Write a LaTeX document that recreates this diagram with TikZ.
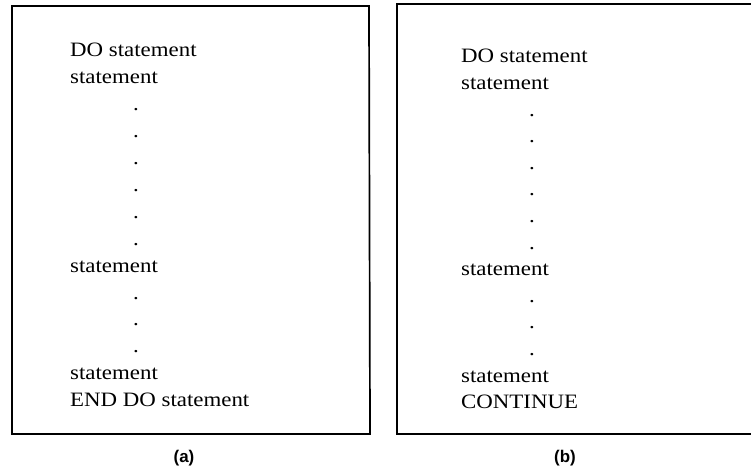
\documentclass[tikz,border=0pt]{standalone}
\usepackage{fontspec}
\setmainfont{Liberation Serif}[FakeStretch=1.12]
\newfontfamily\capfont{Liberation Sans}
\begin{document}
\begin{tikzpicture}[x=1bp,y=-1bp,
  frame/.style={line width=1.7bp, black},
  code/.style={anchor=base west, inner sep=0pt, font=\fontsize{20.5}{24}\selectfont},
  ellip/.style={anchor=base, inner sep=0pt, font=\fontsize{20.5}{24}\selectfont},
  caption/.style={inner sep=0pt, font=\capfont\bfseries\fontsize{17}{20}\selectfont}]
\useasboundingbox (0,0) rectangle (751,470);

% ---- panel (a): DO ... END DO ----
\draw[frame] (12,6) -- (369,6) -- (370,434) -- (12,434) -- cycle;
\def\xa{70}\def\da{136}
\node[code] (a0) at (\xa,57) {DO statement};
\node[code] (a1) at (\xa,83.9) {statement};
\foreach \i in {2,...,7}
  \node[ellip] (a\i) at (\da,57+26.9*\i) {.};
\node[code] (a8) at (\xa,272.2) {statement};
\foreach \i in {9,10,11}
  \node[ellip] (a\i) at (\da,57+26.9*\i) {.};
\node[code] (a12) at (\xa,379.8) {statement};
\node[code] (a13) at (\xa,406.7) {END DO statement};
\node[caption] (capa) at (184,458) {(a)};

% ---- panel (b): DO ... CONTINUE (right side open) ----
\draw[frame] (751,4) -- (397,4) -- (397,434) -- (751,434);
\def\xb{461}\def\db{532}
\node[code] (b0) at (\xb,63) {DO statement};
\node[code] (b1) at (\xb,89.6) {statement};
\foreach \i in {2,...,7}
  \node[ellip] (b\i) at (\db,63+26.6*\i) {.};
\node[code] (b8) at (\xb,275.8) {statement};
\foreach \i in {9,10,11}
  \node[ellip] (b\i) at (\db,63+26.6*\i) {.};
\node[code] (b12) at (\xb,382.2) {statement};
\node[code] (b13) at (\xb,408.8) {CONTINUE};
\node[caption] (capb) at (565,458) {(b)};
\end{tikzpicture}
\end{document}
